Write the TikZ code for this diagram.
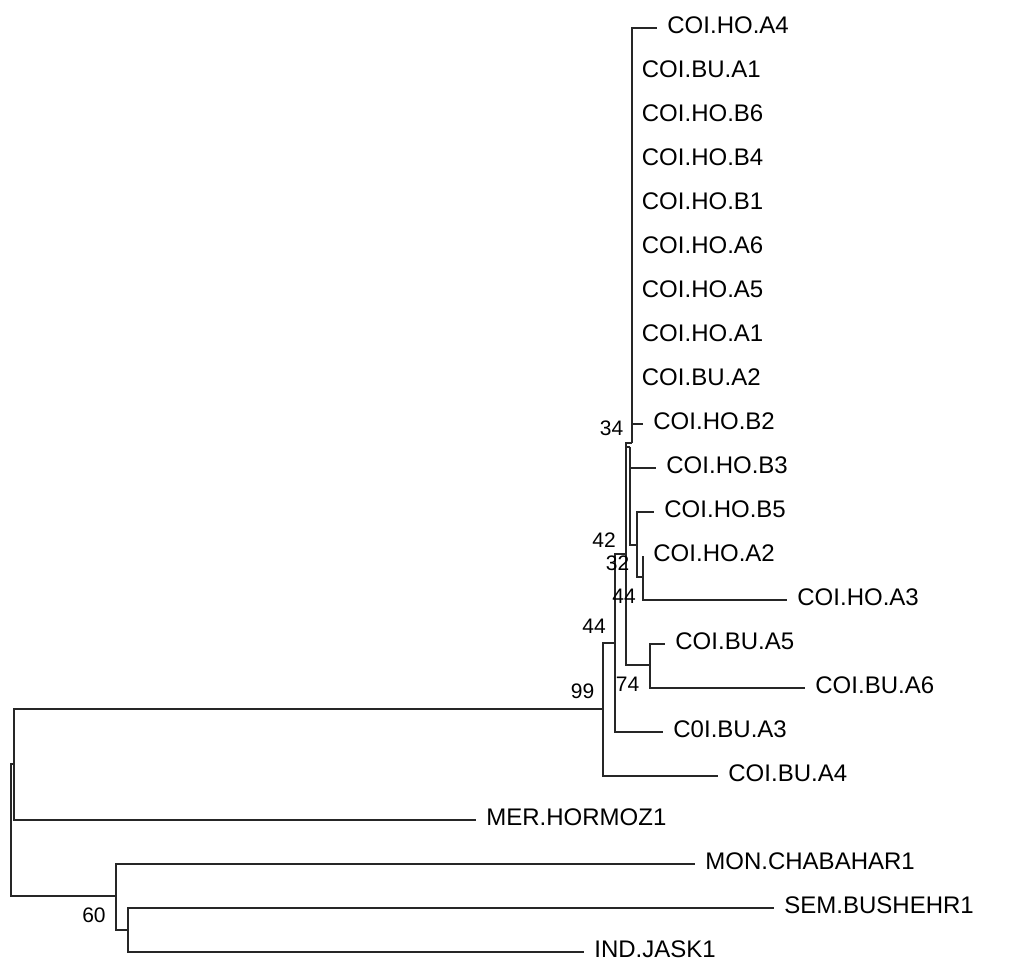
\documentclass[tikz,border=0pt]{standalone}
\usepackage{fontspec}
\setmainfont{Liberation Sans}
\usetikzlibrary{positioning}

\begin{document}
\begin{tikzpicture}[x=0.5pt, y=-0.5pt,
    taxon/.style={anchor=west, inner xsep=5pt, inner ysep=0pt, text height=8.6pt, text depth=3pt, font=\fontsize{12}{14}\selectfont},
    boot/.style={inner sep=0pt, font=\fontsize{10.5}{12}\selectfont},
    branch/.style={line width=1pt, black!85}]
    \useasboundingbox (0,0) rectangle (1020,960);

    % the taxa, one row each
    \foreach \name/\txt/\tip/\row in {hoA4/COI.HO.A4/657/0, buA1/COI.BU.A1/631.5/1,
                                       hoB6/COI.HO.B6/631.5/2, hoB4/COI.HO.B4/631.5/3,
                                       hoB1/COI.HO.B1/631.5/4, hoA6/COI.HO.A6/631.5/5,
                                       hoA5/COI.HO.A5/631.5/6, hoA1/COI.HO.A1/631.5/7,
                                       buA2/COI.BU.A2/631.5/8, hoB2/COI.HO.B2/643/9,
                                       hoB3/COI.HO.B3/656/10, hoB5/COI.HO.B5/654/11,
                                       hoA2/COI.HO.A2/643/12, hoA3/COI.HO.A3/787/13,
                                       buA5/COI.BU.A5/665/14, buA6/COI.BU.A6/805/15,
                                       buA3/C0I.BU.A3/663/16, buA4/COI.BU.A4/718/17,
                                       mer/MER.HORMOZ1/476/18, mon/MON.CHABAHAR1/695/19,
                                       sem/SEM.BUSHEHR1/774/20, ind/IND.JASK1/584/21} {
      \node[taxon] (\name) at (\tip, {27.5+44*\row}) {\txt};
    };

    % inner nodes
    \coordinate (n34) at (631.5, 443);
    \coordinate (nb3) at (630, 447);
    \coordinate (np) at (637, 545);
    \coordinate (nq) at (643, 577);
    \coordinate (n42) at (626, 554);
    \coordinate (nbu56) at (650, 665);
    \coordinate (n74) at (615, 643);
    \coordinate (n99) at (603, 709);
    \coordinate (nmer) at (14, 764);
    \coordinate (nroot) at (11, 830);
    \coordinate (n60) at (116, 896);
    \coordinate (nsj) at (128, 929.5);

    % branches
    \foreach \leaf in {hoA4,buA1,hoB6,hoB4,hoB1,hoA6,hoA5,hoA1,buA2,hoB2} {
      \draw[branch] (n34) |- (\leaf.west);
    };
    \draw[branch] (nb3) |- (hoB3.west);
    \draw[branch] (nb3) |- (np);
    \draw[branch] (np) |- (hoB5.west);
    \draw[branch] (np) |- (nq);
    \draw[branch] (nq) |- (hoA2.west);
    \draw[branch] (nq) |- (hoA3.west);
    \draw[branch] (n42) |- (n34);
    \draw[branch] (n42) |- (nb3);
    \draw[branch] (n42) |- (nbu56);
    \draw[branch] (nbu56) |- (buA5.west);
    \draw[branch] (nbu56) |- (buA6.west);
    \draw[branch] (n74) |- (n42);
    \draw[branch] (n74) |- (buA3.west);
    \draw[branch] (n99) |- (n74);
    \draw[branch] (n99) |- (buA4.west);
    \draw[branch] (nmer) |- (n99);
    \draw[branch] (nmer) |- (mer.west);
    \draw[branch] (nroot) |- (nmer);
    \draw[branch] (nroot) |- (n60);
    \draw[branch] (n60) |- (mon.west);
    \draw[branch] (n60) |- (nsj);
    \draw[branch] (nsj) |- (sem.west);
    \draw[branch] (nsj) |- (ind.west);

    % bootstrap values
    \node[boot] (b34) at (611.5, 428.5) {34};
    \node[boot] (b42) at (604, 540) {42};
    \node[boot] (b32) at (617.5, 563.5) {32};
    \node[boot] (b44a) at (624, 596) {44};
    \node[boot] (b44b) at (594, 626) {44};
    \node[boot] (b99) at (582.5, 691) {99};
    \node[boot] (b74) at (627.5, 684) {74};
    \node[boot] (b60) at (94, 915) {60};
\end{tikzpicture}
\end{document}
